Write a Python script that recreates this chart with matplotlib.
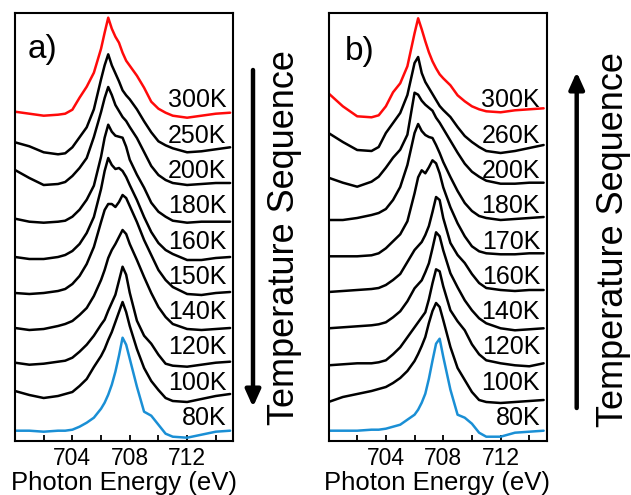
import matplotlib
matplotlib.use('Agg')
import matplotlib.pyplot as plt
from matplotlib.patches import FancyArrowPatch
import numpy as np

plt.rcParams['font.family'] = ['Liberation Sans', 'DejaVu Sans']

# Photon energy grid (eV)
energy = [700, 701, 702, 703, 703.5, 704, 704.5, 705, 705.5, 706, 706.25, 706.5,
          706.75, 707, 707.25, 707.5, 707.75, 708, 708.5, 709, 709.5, 710, 710.5,
          711, 712, 713, 714, 715]

# Panel a) spectra (arb. units), top to bottom
labels_a = ['300K', '250K', '200K', '180K', '160K', '150K', '140K', '120K', '100K', '80K']
a_300K = [1, -1, -3, -2, -1, 3, 15, 26, 40, 64, 80, 95, 84, 76, 70, 60, 52, 47, 37, 25, 11, 4, 0, -3, -5, -3, -1, 0]
a_250K = [5, 1, -5, -7, -6, 0, 10, 20, 38, 68, 82, 93, 82, 74, 66, 57, 52, 48, 38, 26, 15, 6, 2, -1, -5, -4, -2, 0]
a_200K = [13, 5, -2, -1, 1, 7, 15, 25, 46, 71, 85, 96, 88, 78, 72, 66, 62, 56, 45, 31, 17, 8, 3, 0, -2, -1, 0, 0]
a_180K = [3, 0, -1, 0, 1, 5, 12, 22, 36, 65, 84, 97, 90, 86, 85, 84, 75, 62, 47, 34, 19, 10, 5, 1, -1, 0, 0, 0]
a_160K = [0, -2, -2, 0, 2, 6, 13, 24, 40, 68, 86, 99, 92, 88, 89, 86, 80, 72, 57, 40, 25, 14, 7, 3, -3, -3, -1, 0]
a_150K = [-1, -2, -1, 1, 3, 8, 16, 28, 45, 70, 82, 88, 88, 85, 90, 97, 94, 86, 70, 52, 37, 22, 12, 5, -2, -3, -1, 0]
a_140K = [0, -2, -1, 2, 4, 7, 13, 20, 32, 48, 58, 70, 78, 84, 91, 98, 94, 84, 68, 51, 35, 21, 11, 4, -1, -2, -1, 0]
a_120K = [0, -2, -1, 1, 2, 5, 11, 18, 27, 38, 43, 52, 60, 68, 82, 96, 88, 70, 42, 27, 19, 8, -1, -3, -4, -2, 0, 1]
a_100K = [3, -1, -4, -2, 0, 2, 8, 15, 27, 38, 45, 54, 62, 72, 82, 92, 82, 68, 45, 26, 13, 4, -4, -7, -8, -5, -2, 0]
a_80K = [0, 0, -1, 0, 0, 1, 4, 8, 13, 22, 28, 36, 46, 59, 75, 93, 86, 72, 44, 19, 15, 6, -3, -6, -7, -4, -1, 0]
series_a = [a_300K, a_250K, a_200K, a_180K, a_160K, a_150K, a_140K, a_120K, a_100K, a_80K]
offsets_a = [328.3, 293.7, 258, 219.3, 184, 149, 113, 78.3, 47, 10.3]

# Panel b) spectra (arb. units), top to bottom
labels_b = ['300K', '260K', '200K', '180K', '170K', '160K', '140K', '120K', '100K', '80K']
b_300K = [15, 2, -8, -9, -7, 2, 16, 25, 42, 75, 90, 79, 67, 56, 47, 40, 34, 30, 23, 13, 7, 2, -1, -3, -4, -2, -1, 0]
b_260K = [12, 3, -5, -6, -2, 12, 22, 32, 50, 82, 88, 72, 63, 57, 51, 45, 39, 35, 28, 18, 9, 3, -2, -6, -8, -6, -3, 0]
b_200K = [5, 0, -4, 1, 6, 15, 25, 33, 48, 90, 88, 82, 78, 75, 72, 65, 60, 54, 42, 30, 19, 11, 6, 2, -1, -1, 0, 0]
b_180K = [-3, -3, -1, 2, 4, 8, 17, 30, 52, 84, 93, 86, 82, 80, 79, 72, 64, 55, 40, 26, 14, 6, 1, -1, -3, -2, -1, 0]
b_170K = [-3, -3, -3, -2, 0, 5, 12, 19, 32, 60, 76, 83, 80, 86, 93, 90, 80, 66, 46, 30, 17, 7, 2, 0, -1, -1, 0, 0]
b_160K = [-2, -1, 0, 1, 2, 5, 10, 16, 28, 40, 44, 48, 55, 64, 78, 93, 90, 72, 47, 35, 27, 16, 7, 2, 0, -1, 0, 0]
b_140K = [0, 1, 2, 3, 4, 6, 11, 17, 27, 40, 44, 48, 56, 65, 80, 96, 92, 78, 55, 41, 28, 18, 10, 5, 0, -2, -1, 0]
b_120K = [-2, -1, 0, 0, 1, 3, 9, 16, 26, 36, 41, 46, 51, 64, 80, 94, 92, 77, 53, 42, 33, 19, 9, 3, 0, -2, -3, 0]
b_100K = [-2, 3, 6, 9, 11, 13, 17, 22, 29, 39, 46, 54, 63, 77, 89, 97, 93, 80, 53, 32, 20, 8, 0, -2, -3, -2, -1, 0]
b_80K = [0, 0, 0, 1, 1, 2, 4, 6, 11, 16, 21, 28, 37, 52, 70, 87, 92, 74, 41, 16, 13, 7, -2, -6, -6, -2, -1, 0]
series_b = [b_300K, b_260K, b_200K, b_180K, b_170K, b_160K, b_140K, b_120K, b_100K, b_80K]
offsets_b = [332.7, 296, 258.3, 224, 187.7, 151, 112.7, 77.7, 41, 10.3]

RED = '#ff0a0a'
BLUE = '#1a8fd5'
BLACK = '#000000'

W, H = 631, 495
fig = plt.figure(figsize=(W / 100, H / 100), dpi=100)

def make_panel(left_px, series, offsets, labels, tag):
    ax = fig.add_axes([left_px / W, 54 / H, 218 / W, 428 / H])
    n = len(series)
    for i, (vals, off) in enumerate(zip(series, offsets)):
        if i == 0:
            c = RED
        elif i == n - 1:
            c = BLUE
        else:
            c = BLACK
        ax.plot(energy, np.array(vals) + off, color=c, lw=1.8,
                solid_joinstyle='round', solid_capstyle='round')
    label_y = np.linspace(333.7, 15.9, n)
    for lab, y in zip(labels, label_y):
        ax.text(714.75, y, lab, ha='right', va='baseline', fontsize=18)
    ax.set_xlim(700, 715.2)
    ax.set_ylim(0, 428)
    ax.set_xticks([704, 708, 712])
    ax.set_xticks([702, 706, 710, 714], minor=True)
    ax.set_yticks([])
    ax.tick_params(axis='x', which='both', direction='in', length=4, width=1.3,
                   top=False, labelsize=16.5, pad=4)
    for sp in ax.spines.values():
        sp.set_linewidth(1.5)
    ax.set_xlabel('Photon Energy (eV)', fontsize=18.5, labelpad=1)
    ax.text(tag[1], tag[2], tag[0], transform=ax.transAxes, fontsize=24,
            ha='left', va='baseline')
    return ax

make_panel(15, series_a, offsets_a, labels_a, ('a)', 0.06, 0.895))
make_panel(328.5, series_b, offsets_b, labels_b, ('b)', 0.075, 0.89))

fig.text(284.5 / W, (H - 238) / H, 'Temperature Sequence', rotation=90,
         ha='center', va='center', fontsize=26)
fig.text(613.5 / W, (H - 240) / H, 'Temperature Sequence', rotation=90,
         ha='center', va='center', fontsize=26)

arr_a = FancyArrowPatch((253 / W, (H - 70) / H), (253 / W, (H - 407) / H),
                        transform=fig.transFigure, arrowstyle='-|>,head_length=10,head_width=4.5',
                        lw=3.2, color='black', shrinkA=0, shrinkB=0, mutation_scale=1)
arr_b = FancyArrowPatch((576.7 / W, (H - 408) / H), (576.7 / W, (H - 72) / H),
                        transform=fig.transFigure, arrowstyle='-|>,head_length=10,head_width=4.5',
                        lw=3.2, color='black', shrinkA=0, shrinkB=0, mutation_scale=1)
fig.add_artist(arr_a)
fig.add_artist(arr_b)

fig.savefig('out.png', dpi=100)
